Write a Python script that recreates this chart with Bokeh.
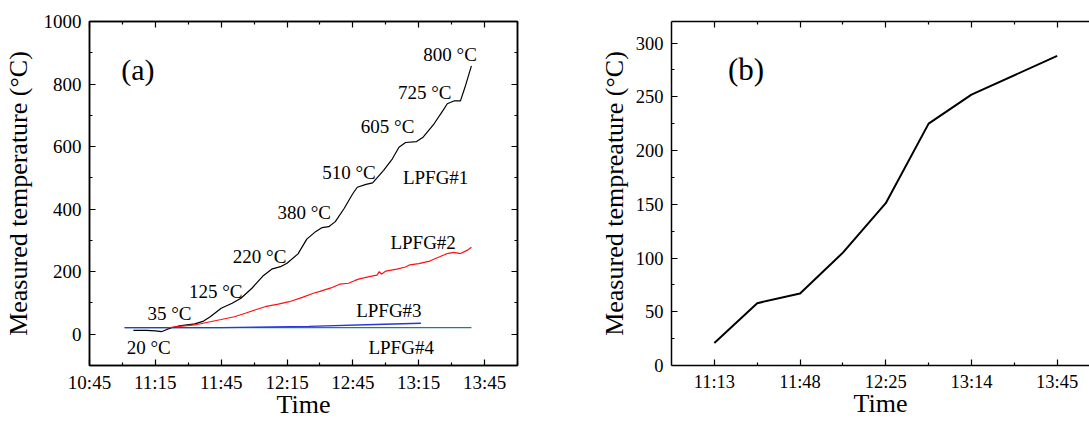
from bokeh.plotting import figure
from bokeh.layouts import row
from bokeh.models import (FixedTicker, LinearAxis, Range1d, ColumnDataSource,
                          CustomLabelingPolicy)
from bokeh.core.properties import value
from bokeh.embed import file_html
from bokeh.resources import INLINE

FONT = "Liberation Serif"

# ---------------- data: panel (a) ----------------
lpfg1_time = ["11:05", "11:11", "11:15", "11:18", "11:22", "11:26", "11:33", "11:37",
              "11:40", "11:45", "11:50", "11:54", "11:59", "12:04", "12:08", "12:12",
              "12:15", "12:20", "12:24", "12:28", "12:31", "12:34", "12:37", "12:41",
              "12:45", "12:47", "12:51", "12:54", "12:59", "13:03", "13:06", "13:09",
              "13:14", "13:17", "13:22", "13:26", "13:28", "13:31", "13:34", "13:36",
              "13:39"]
lpfg1_temp = [12, 12, 11, 8.5, 20, 27, 33, 42,
              56, 83, 99, 115, 147, 186, 208, 216,
              227, 257, 304, 328, 341, 344, 360, 402,
              450, 470, 479, 484, 524, 561, 598, 613,
              616, 630, 673, 715, 737, 746, 746, 788,
              858]

lpfg2_time = ["11:20", "11:27", "11:34", "11:40", "11:45", "11:51", "11:56", "12:01",
              "12:05", "12:11", "12:16", "12:22", "12:27", "12:30", "12:35", "12:39",
              "12:43", "12:46", "12:48", "12:50", "12:53", "12:56", "12:57", "12:58",
              "13:00", "13:05", "13:09", "13:11", "13:15", "13:20", "13:24", "13:28",
              "13:31", "13:34", "13:37", "13:39"]
lpfg2_temp = [20, 26, 31, 40, 47, 56, 67, 79,
              88, 96, 104, 118, 131, 137, 148, 160,
              163, 172, 177, 180, 185, 189, 200, 192,
              202, 208, 215, 222, 226, 234, 246, 258,
              262, 258, 268, 278]

lpfg3_time = ["11:01", "11:45", "12:25", "12:55", "13:16"]
lpfg3_temp = [21, 21, 25, 31, 35]

lpfg4_time = ["11:01", "13:39"]
lpfg4_temp = [21, 21]

a_xtick_labels = ["10:45", "11:15", "11:45", "12:15", "12:45", "13:15", "13:45"]
a_yticks = [0, 200, 400, 600, 800, 1000]

ann_text = ["20 °C", "35 °C", "125 °C", "220 °C", "380 °C", "510 °C", "605 °C",
            "725 °C", "800 °C", "LPFG#1", "LPFG#2", "LPFG#3", "LPFG#4"]
ann_time = ["11:12", "11:21.4", "11:42.5", "12:02.5", "12:22.8", "12:43.2", "13:00.8",
            "13:17.7", "13:29.3", "13:22.7", "13:17", "13:01.4", "13:07"]
ann_temp = [-43, 65, 137, 247, 390, 516, 665, 774, 893, 500, 294, 75, -41]

# ---------------- data: panel (b) ----------------
b_tick_labels = ["11:13", "11:48", "12:25", "13:14", "13:45"]
b_pos = [0, 0.5, 1, 1.5, 2, 2.5, 3, 4]
b_temp = [21, 58, 67, 105, 151, 225, 252, 288]
b_yticks = [0, 50, 100, 150, 200, 250, 300]


def to_min(s):
    h, m = s.split(":")
    return int(h) * 60 + float(m)


def style_axis(ax, size, standoff=8):
    ax.major_tick_in = 6
    ax.major_tick_out = 0
    ax.minor_tick_in = 3
    ax.minor_tick_out = 0
    ax.axis_line_width = 1.5
    ax.axis_line_color = "black"
    ax.major_tick_line_width = 1.2
    ax.minor_tick_line_width = 1.2
    ax.major_tick_line_color = "black"
    ax.minor_tick_line_color = "black"
    ax.major_label_text_font = FONT
    ax.major_label_text_font_size = f"{size}px"
    ax.major_label_text_color = "black"
    ax.major_label_standoff = standoff
    ax.axis_label_text_font = FONT
    ax.axis_label_text_font_size = "26px"
    ax.axis_label_text_font_style = "normal"
    ax.axis_label_text_color = "black"


def mirror_axis(tk):
    ax = LinearAxis(ticker=tk)
    style_axis(ax, 1, standoff=0)
    ax.major_label_policy = CustomLabelingPolicy(
        code="const all = [...indices]; for (const i of all) indices.unset(i); return indices")
    return ax


# ---------------- panel (a) ----------------
x_major = [to_min(t) for t in a_xtick_labels]
x_minor = [t + 15 for t in x_major]
xt_a = FixedTicker(ticks=x_major, minor_ticks=x_minor)
yt_a = FixedTicker(ticks=a_yticks, minor_ticks=[v + 100 for v in a_yticks])

p1 = figure(width=560, height=421, x_range=Range1d(645, 840), y_range=Range1d(-100, 1000),
            output_backend="svg", toolbar_location=None,
            min_border_left=88, min_border_right=43, min_border_top=21, min_border_bottom=56)
p1.grid.visible = False
p1.outline_line_color = "black"
p1.outline_line_width = 1.5
p1.xaxis.ticker = xt_a
p1.yaxis.ticker = yt_a
p1.xaxis.major_label_overrides = {to_min(t): t for t in a_xtick_labels}
p1.xaxis.axis_label = "Time"
p1.yaxis.axis_label = "Measured temperature (°C)"
style_axis(p1.xaxis[0], 19, standoff=6)
style_axis(p1.yaxis[0], 19, standoff=8)
p1.xaxis.axis_label_standoff = -6
p1.yaxis.axis_label_standoff = 8

p1.add_layout(mirror_axis(yt_a), "right")
p1.add_layout(mirror_axis(xt_a), "above")

series = [
    (lpfg4_time, lpfg4_temp, "#1f7f7f", 1.2),
    (lpfg3_time, lpfg3_temp, "#2b35e0", 1.4),
    (lpfg1_time, lpfg1_temp, "black", 1.2),
    (lpfg2_time, lpfg2_temp, "#ff1010", 1.2),
]
for tt, vv, col, w in series:
    p1.line([to_min(t) for t in tt], vv, line_color=col, line_width=w)

src_ann = ColumnDataSource(dict(x=[to_min(t) for t in ann_time], y=ann_temp, t=ann_text))
p1.text(x="x", y="y", text="t", source=src_ann, text_font=value(FONT),
        text_font_size="19px", text_align="center", text_baseline="middle",
        text_color="black")
p1.text(x=[to_min("11:07")], y=[848], text=["(a)"], text_font=value(FONT),
        text_font_size="30px", text_align="center", text_baseline="middle",
        text_color="black")

# ---------------- panel (b) ----------------
xt_b = FixedTicker(ticks=list(range(len(b_tick_labels))),
                   minor_ticks=[i + 0.5 for i in range(len(b_tick_labels))])
yt_b = FixedTicker(ticks=b_yticks, minor_ticks=[v + 25 for v in b_yticks])

p2 = figure(width=529, height=421, x_range=Range1d(-0.5, 4.377), y_range=Range1d(0, 320),
            output_backend="svg", toolbar_location=None,
            min_border_left=111, min_border_right=0, min_border_top=21, min_border_bottom=56)
p2.grid.visible = False
p2.outline_line_color = None
p2.xaxis.ticker = xt_b
p2.yaxis.ticker = yt_b
p2.xaxis.major_label_overrides = {i: t for i, t in enumerate(b_tick_labels)}
p2.xaxis.axis_label = "Time"
p2.yaxis.axis_label = "Measured tempreature (°C)"
style_axis(p2.xaxis[0], 18.5, standoff=6)
style_axis(p2.yaxis[0], 18.5, standoff=8)
p2.xaxis.axis_label_standoff = -6
p2.yaxis.axis_label_standoff = 4
p2.add_layout(mirror_axis(xt_b), "above")

p2.line(b_pos, b_temp, line_color="black", line_width=2)
p2.text(x=[0.37], y=[275], text=["(b)"], text_font=value(FONT),
        text_font_size="31px", text_align="center", text_baseline="middle",
        text_color="black")

layout = row(p1, p2)
open("out.html", "w").write(file_html(layout, INLINE))
